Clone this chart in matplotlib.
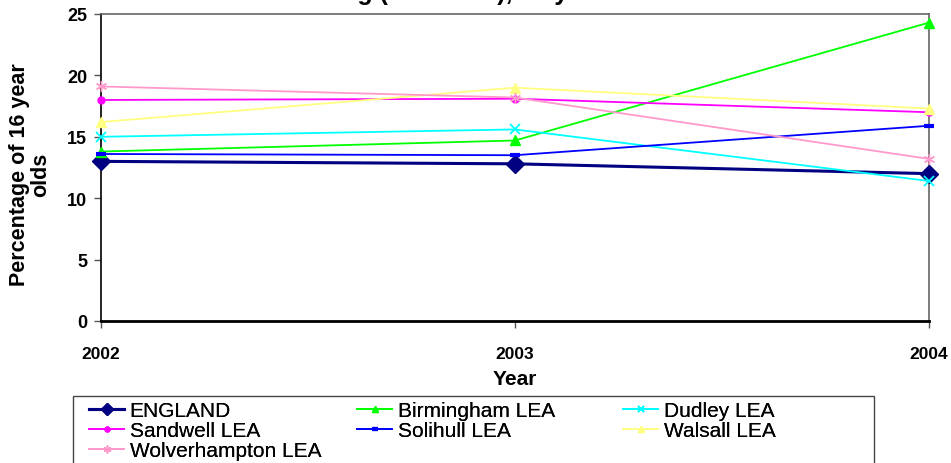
import matplotlib
matplotlib.use("Agg")
import matplotlib.pyplot as plt
from matplotlib.patches import Rectangle

years = ["2002", "2003", "2004"]
england = [13.0, 12.8, 12.0]
birmingham = [13.8, 14.7, 24.3]
dudley = [15.0, 15.6, 11.4]
sandwell = [18.0, 18.1, 17.0]
solihull = [13.6, 13.5, 15.9]
walsall = [16.2, 19.0, 17.3]
wolverhampton = [19.1, 18.2, 13.2]
series_names = ["ENGLAND", "Birmingham LEA", "Dudley LEA", "Sandwell LEA",
                "Solihull LEA", "Walsall LEA", "Wolverhampton LEA"]
yticks = [0, 5, 10, 15, 20, 25]
title = "Not in Education or Training (Full Time), 16 year olds"

plt.rcParams['font.family'] = ['Liberation Sans', 'DejaVu Sans']

W, H = 951, 464
fig = plt.figure(figsize=(W / 100, H / 100), dpi=100)
ax = fig.add_axes([101 / W, 1 - 322 / H, (929 - 101) / W, (322 - 15) / H])

x = list(range(len(years)))
styles = [
    (england, dict(color="#000080", marker="D", markersize=9, lw=2.2)),
    (birmingham, dict(color="#00FF00", marker="^", markersize=7, lw=1.3)),
    (dudley, dict(color="#00FFFF", marker="x", markersize=7, mew=1.3, lw=1.3)),
    (sandwell, dict(color="#FF00FF", marker="o", markersize=5, lw=1.3)),
    (solihull, dict(color="#0000FF", marker="_", markersize=7, mew=3, lw=1.3)),
    (walsall, dict(color="#FFFF80", marker="^", markersize=7, lw=1.3)),
    (wolverhampton, dict(color="#FF99CC", marker=(6, 2, 0), markersize=8, mew=1.0, lw=1.3)),
]
handles = []
for (vals, st), name in zip(styles, series_names):
    h, = ax.plot(x, vals, label=name, clip_on=False, zorder=3, **st)
    handles.append(h)

ax.set_xlim(0, 2)
ax.set_ylim(0, 25)
ax.set_yticks(yticks)
ax.set_yticklabels([str(t) for t in yticks], fontsize=13, fontweight="bold")
ax.set_xticks(x)
ax.set_xticklabels(years, fontsize=12.5, fontweight="bold")
ax.tick_params(axis="y", direction="out", length=5, width=1, color="#555555", pad=5)
ax.tick_params(axis="x", direction="out", length=5, width=1, color="#555555", pad=13)

for s in ["top", "right"]:
    ax.spines[s].set_color("#666666")
    ax.spines[s].set_linewidth(1.2)
ax.spines["left"].set_color("black")
ax.spines["left"].set_linewidth(1.2)
ax.spines["bottom"].set_color("black")
ax.spines["bottom"].set_linewidth(2)

fig.text(515 / W, 1 - 385 / H, "Year", ha="center", va="baseline",
         fontsize=15, fontweight="bold")
fig.text(30 / W, 1 - 175 / H, "Percentage of 16 year\nolds", rotation=90,
         ha="center", va="center", multialignment="center",
         fontsize=15.5, fontweight="bold", linespacing=1.05)

t = fig.text(0, 1.0, title, ha="left", va="baseline", fontsize=18, fontweight="bold")
fig.canvas.draw()
r = fig.canvas.get_renderer()
probe = fig.text(0, 0, title[:title.index("g (")], fontsize=18, fontweight="bold")
pw = probe.get_window_extent(r).width
probe.remove()
t.set_x((357 - pw) / W)

frame = Rectangle((73 / W, -0.1), (874 - 73) / W, (1 - 397 / H) + 0.1,
                  transform=fig.transFigure, fill=False, edgecolor="#444444", lw=1.0)
fig.add_artist(frame)
cols = [([0, 3, 6], 89), ([1, 4], 357), ([2, 5], 623)]
for idx, x0 in cols:
    lg = fig.legend([handles[i] for i in idx], [series_names[i] for i in idx],
                    loc="upper left", bbox_to_anchor=(x0 / W, 1 - 402 / H),
                    prop=dict(size=15), frameon=False,
                    handlelength=1.7, handletextpad=0.25, labelspacing=0.05,
                    borderpad=0, borderaxespad=0, markerscale=0.7)
    fig.add_artist(lg)

fig.savefig("out.png", dpi=100)
